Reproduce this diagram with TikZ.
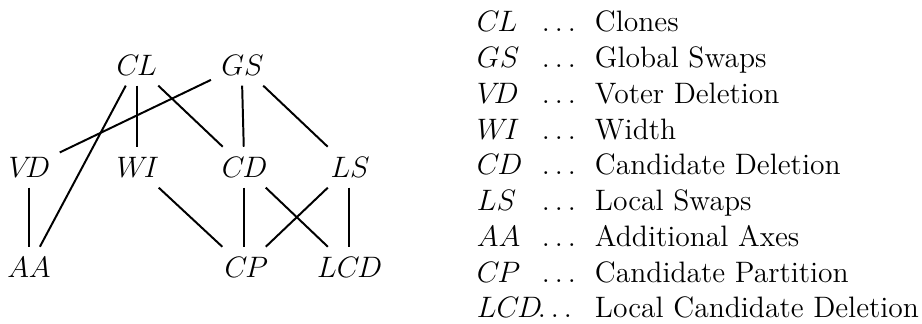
\documentclass[tikz,border=0pt,12pt]{standalone}
\newcommand{\mvar}[1]{{\usefont{OML}{cmm}{m}{it}#1}}
\begin{document}
\begin{tikzpicture}[x=0.406pt,y=-0.406pt,
  vtx/.style={anchor=base},
  edge/.style={line width=0.8pt},
  lg/.style={anchor=base west, inner sep=0pt}]
\useasboundingbox (0,0) rectangle (922,324);
% graph nodes
\node[vtx] (CL) at (136.7,75.3) {\mvar{CL}};
\node[vtx] (GS) at (241.6,75.3) {\mvar{GS}};
\node[vtx] (VD) at (29,177.3) {\mvar{VD}};
\node[vtx] (WI) at (136.7,177.3) {\mvar{WI}};
\node[vtx] (CD) at (244.3,177.3) {\mvar{CD}};
\node[vtx] (LS) at (349.3,177.3) {\mvar{LS}};
\node[vtx] (AA) at (29,277.3) {\mvar{AA}};
\node[vtx] (CP) at (244.3,277.3) {\mvar{CP}};
\node[vtx] (LCD) at (349.3,277.3) {\mvar{LCD}};
% edges
\draw[edge] (CL) -- (AA);
\draw[edge] (CL) -- (WI);
\draw[edge] (CL) -- (CD);
\draw[edge] (GS) -- (VD);
\draw[edge] (GS) -- (CD);
\draw[edge] (GS) -- (LS);
\draw[edge] (VD) -- (AA);
\draw[edge] (WI) -- (CP);
\draw[edge] (CD) -- (CP);
\draw[edge] (CD) -- (LCD);
\draw[edge] (LS) -- (CP);
\draw[edge] (LS) -- (LCD);
% legend
\foreach \ab/\dx/\txt [count=\i from 0] in {CL/541.5/Clones, GS/541.5/Global Swaps, VD/541.5/Voter Deletion, WI/541.5/Width, CD/541.5/Candidate Deletion, LS/541.5/Local Swaps, AA/541.5/Additional Axes, CP/541.5/Candidate Partition, LCD/537.5/Local Candidate Deletion}{
  \node[lg] (ab\i) at (476.5,{32+35.75*\i}) {\mvar{\ab}};
  \node[lg] (dt\i) at (\dx,{32+35.75*\i}) {$\ldots$};
  \node[lg] (tx\i) at (594.5,{32+35.75*\i}) {\txt};
}
\end{tikzpicture}
\end{document}
